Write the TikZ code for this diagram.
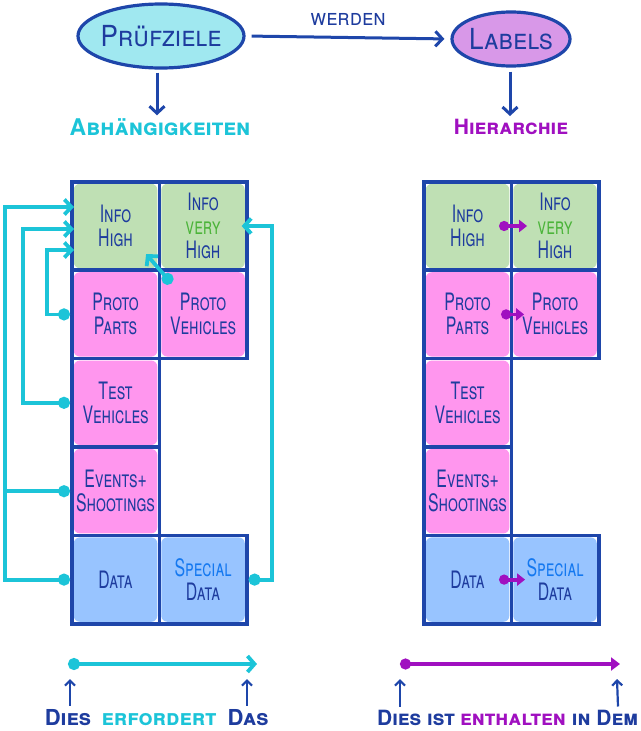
\documentclass[tikz,border=0pt]{standalone}
\usepackage{fontspec}
\setmainfont{TeX Gyre Heros}
\newfontfamily\handn{TeX Gyre Heros}[FakeStretch=0.66]
\newfontfamily\handw{TeX Gyre Heros}[FakeStretch=0.9]
\usetikzlibrary{arrows.meta,calc,shapes.geometric}
\definecolor{dblue}{HTML}{1E46AA}
\definecolor{tblue}{HTML}{1E3C9E}
\definecolor{cyanc}{HTML}{1CC4D8}
\definecolor{purp}{HTML}{A010C0}
\definecolor{gtext}{HTML}{4CB43A}
\definecolor{sblue}{HTML}{1478F0}
\definecolor{cgreen}{HTML}{BFE0B4}
\definecolor{cpink}{HTML}{FF96EE}
\definecolor{cblue}{HTML}{98C4FF}
\definecolor{ecyan}{HTML}{A0E8F0}
\definecolor{epurp}{HTML}{D898E8}
\begin{document}
\begin{tikzpicture}[x=1pt,y=-1pt,
  cellbox/.style={draw=dblue, line width=3.6pt, minimum width=87.5pt, minimum height=88.4pt,
    inner sep=0pt, anchor=north west, align=center, text=tblue,
    font=\handn\fontsize{24}{24}\selectfont\scshape,
    path picture={\fill[#1, rounded corners=6pt]
      ([shift={(2pt,-2pt)}]path picture bounding box.north west) rectangle
      ([shift={(-2pt,2pt)}]path picture bounding box.south east);}},
  oval/.style={ellipse, draw=dblue, line width=3.2pt, fill=#1, inner sep=0pt, text=tblue,
    font=\handw\fontsize{29}{30}\selectfont\scshape},
  barr/.style={draw=dblue, line width=3pt, -{Straight Barb[length=7pt,width=15pt,line width=3pt]}},
  cconn/.style={draw=cyanc, line width=3.8pt, {Circle[length=12pt]}-{Straight Barb[length=7pt,width=15pt,line width=3.8pt]}},
  cline/.style={draw=cyanc, line width=3.8pt, {Circle[length=12pt]}-},
  pconn/.style={draw=purp, line width=3.8pt, {Circle[length=10pt]}-{Triangle[length=8pt,width=12pt]}},
  upar/.style={draw=dblue, line width=2.2pt, -{Straight Barb[length=5pt,width=10pt,line width=2.2pt]}},
  lbl/.style={inner sep=0pt, font=\fontsize{#1}{#1}\selectfont\bfseries\scshape},
  lbl/.default=21
]
\useasboundingbox (0,0) rectangle (640,731);

% top
\node[oval=ecyan, minimum width=166pt, minimum height=64pt] (pz) at (161,36) {\makebox[0pt]{Prüfziele}};
\node[oval=epurp, minimum width=118pt, minimum height=54pt] (lab) at (511,39) {\makebox[0pt]{Labels}};
\draw[barr, shorten <=6pt, shorten >=6pt] (pz.east) -- node[above=7pt, text=tblue, font=\handw\fontsize{23}{23}\selectfont\scshape] {werden} (lab.west);
\node[lbl=23, text=cyanc] (abh) at (160,127) {Abhängigkeiten};
\node[lbl=21, text=purp] (hier) at (511,127) {Hierarchie};
\draw[barr, shorten <=3pt, shorten >=3pt] ([xshift=-4pt]pz.south) -- ([xshift=-3pt]abh.north);
\draw[barr, shorten <=4pt, shorten >=3pt] ([xshift=-1pt]lab.south) -- ([xshift=-1pt]hier.north);

% left grid
\node[cellbox=cgreen] (ih) at (70,180) {Info\\High};
\node[cellbox=cgreen] (ivh) at (157.5,180) {Info\\\textcolor{gtext}{very}\\High};
\node[cellbox=cpink] (pp) at (70,268.4) {Proto\\Parts};
\node[cellbox=cpink] (pv) at (157.5,268.4) {Proto\\Vehicles};
\node[cellbox=cpink] (tv) at (70,356.8) {Test\\Vehicles};
\node[cellbox=cpink] (es) at (70,445.2) {Events+\\Shootings};
\node[cellbox=cblue] (da) at (70,533.6) {Data};
\node[cellbox=cblue] (sd) at (157.5,533.6) {\textcolor{sblue}{Special}\\Data};

% right grid
\node[cellbox=cgreen] (ih2) at (422,180) {Info\\High};
\node[cellbox=cgreen] (ivh2) at (509.5,180) {Info\\\textcolor{gtext}{very}\\High};
\node[cellbox=cpink] (pp2) at (422,268.4) {Proto\\Parts};
\node[cellbox=cpink] (pv2) at (509.5,268.4) {Proto\\Vehicles};
\node[cellbox=cpink] (tv2) at (422,356.8) {Test\\Vehicles};
\node[cellbox=cpink] (es2) at (422,445.2) {Events+\\Shootings};
\node[cellbox=cblue] (da2) at (422,533.6) {Data};
\node[cellbox=cblue] (sd2) at (509.5,533.6) {\textcolor{sblue}{Special}\\Data};

% left connectors
\draw[cconn] (da.west) -- ++(-65,0) |- ([shift={(4pt,19pt)}]ih.west);
\draw[cline] (es.west) -- ++(-65,0);
\draw[cconn] (tv.west) -- ++(-47,0) |- ([shift={(4pt,-3pt)}]ih.west);
\draw[cconn] (pp.west) -- ++(-23,0) |- ([shift={(4pt,-24pt)}]ih.west);
\draw[cconn] ([shift={(14pt,-15pt)}]pv.north west) -- ([shift={(-15pt,18pt)}]ih.south east);
\draw[cconn] (sd.east) -- ++(23,0) |- ([xshift=-7pt]ivh.east);

% right connectors
\draw[pconn] ([xshift=-14pt]ih2.east) -- ([xshift=14pt]ih2.east);
\draw[pconn] ([xshift=-12pt]pp2.east) -- ([xshift=11pt]pp2.east);
\draw[pconn] ([xshift=-14pt]da2.east) -- ([xshift=12pt]da2.east);

% bottom
\coordinate (c1) at (68,664);
\coordinate (c2) at (257,664);
\coordinate (p1) at (400,664);
\coordinate (p2) at (620,664);
\draw[draw=cyanc, line width=3.8pt, {Circle[length=12pt]}-{Straight Barb[length=7pt,width=16pt,line width=3.8pt]}] (c1) -- (c2);
\draw[draw=purp, line width=3.8pt, {Circle[length=11pt]}-{Triangle[length=9pt,width=13pt]}] (p1) -- (p2);

\node[lbl=22, text=tblue, anchor=base] (w1) at (68,725) {Dies};
\node[lbl=22, text=cyanc, anchor=base] (w2) at (159,725) {erfordert};
\node[lbl=22, text=tblue, anchor=base] (w3) at (248,725) {Das};
\node[lbl, text=tblue, anchor=base] (w4) at (416,725) {Dies ist};
\node[lbl, text=purp, anchor=base] (w5) at (513,725) {enthalten};
\node[lbl, text=tblue, anchor=base] (w6) at (605,725) {in Dem};

\draw[upar] ([xshift=2pt,yshift=3pt]w1.north) -- ([xshift=2pt,yshift=-15pt]c1);
\draw[upar] ([xshift=-1pt,yshift=3pt]w3.north) -- ([xshift=-10pt,yshift=-15pt]c2);
\draw[upar] ([xshift=-16pt,yshift=3pt]w4.north) -- ([yshift=-15pt]p1);
\draw[upar] ([xshift=13pt,yshift=3pt]w6.north) -- ([xshift=-3pt,yshift=-15pt]p2);
\end{tikzpicture}
\end{document}
